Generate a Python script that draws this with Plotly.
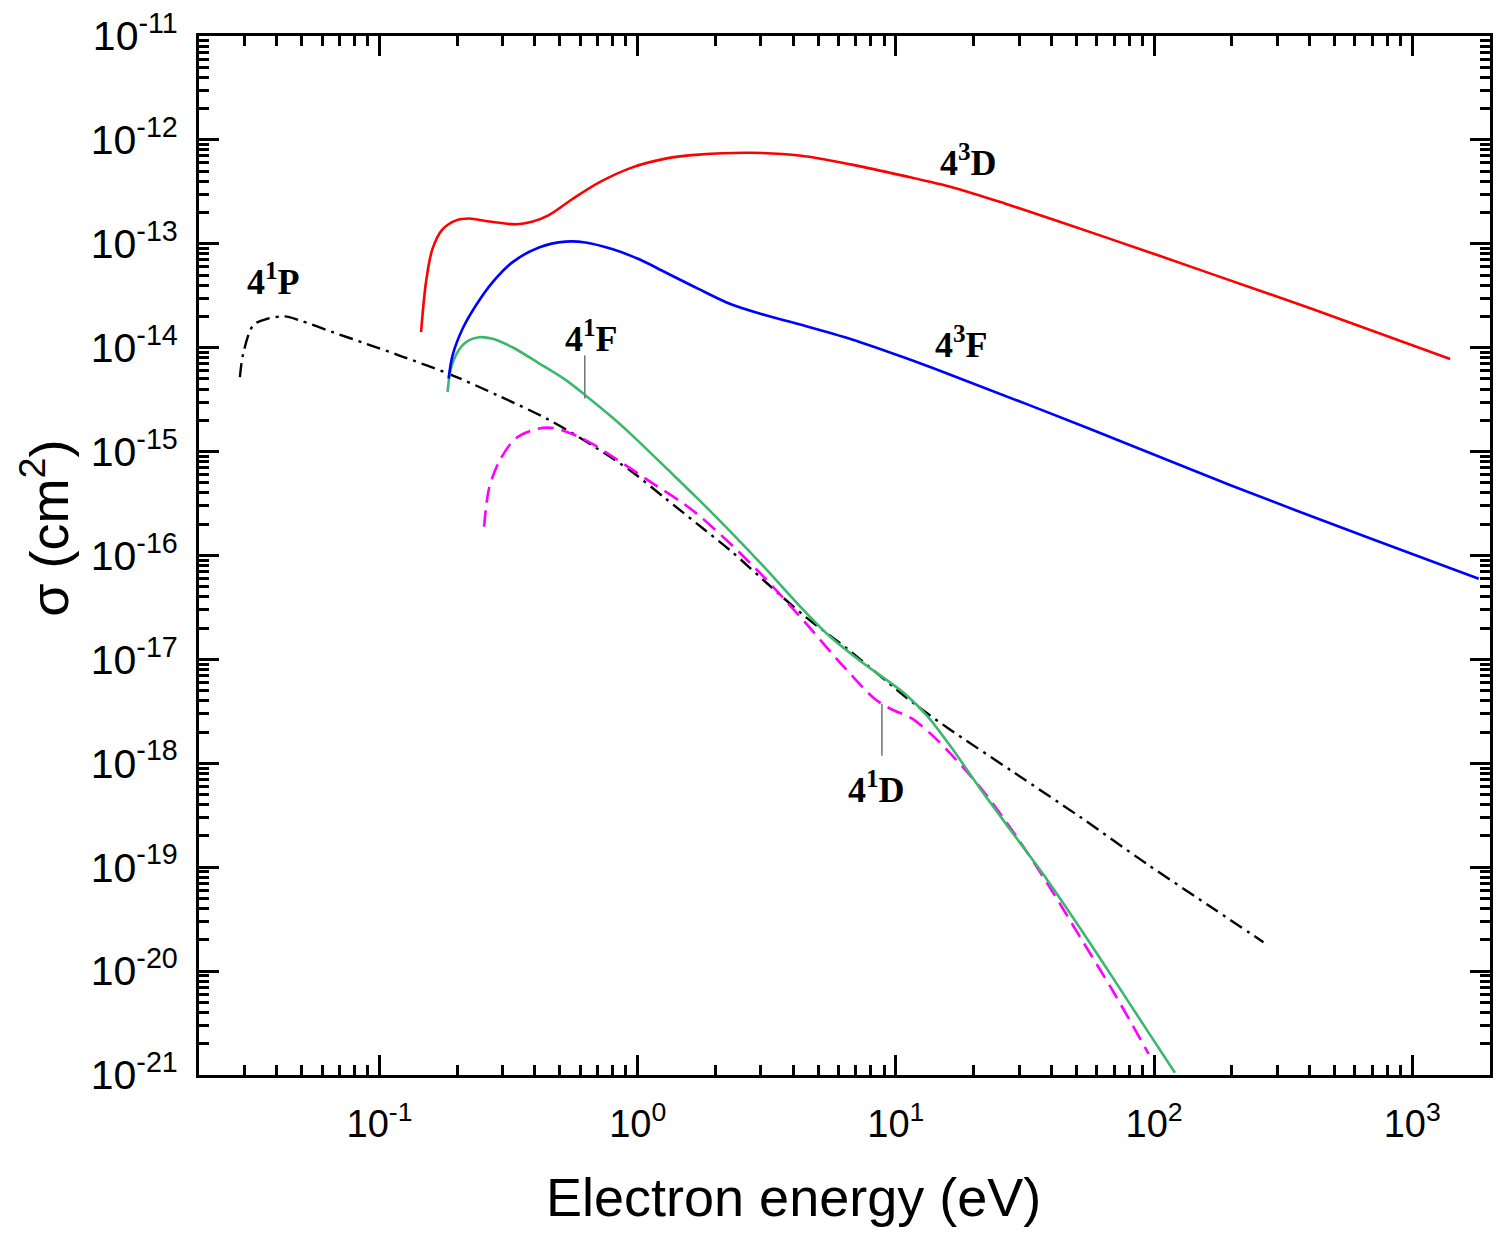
import plotly.graph_objects as go
import math

# ---------------- data ----------------
# 4^3D (red)
e_43D = [0.1449, 0.1514, 0.1602, 0.1751, 0.1982, 0.2225, 0.2660, 0.3381, 0.3897, 0.4532,
         0.5558, 0.7069, 0.9480, 1.282, 1.720, 2.706, 4.297, 6.761, 10.64, 16.74,
         26.58, 65.87, 164.6, 407.6, 1402]
s_43D = [1.41e-14, 4.27e-14, 8.83e-14, 1.37e-13, 1.68e-13, 1.75e-13, 1.64e-13, 1.54e-13, 1.63e-13, 1.89e-13,
         2.67e-13, 3.88e-13, 5.41e-13, 6.60e-13, 7.21e-13, 7.53e-13, 7.05e-13, 5.78e-13, 4.53e-13, 3.47e-13,
         2.43e-13, 1.14e-13, 5.19e-14, 2.37e-14, 7.78e-15]

# 4^3F (blue)
e_43F = [0.1852, 0.1919, 0.2098, 0.2362, 0.2739, 0.3270, 0.4148, 0.5259, 0.6283, 0.7959,
         1.009, 1.279, 1.720, 2.312, 3.112, 4.297, 6.761, 10.64, 15.88, 55.93,
         196.6, 693.4, 1809]
s_43F = [5.03e-15, 8.43e-15, 1.52e-14, 2.55e-14, 4.26e-14, 6.63e-14, 9.23e-14, 1.05e-13, 1.03e-13, 8.89e-14,
         7.13e-14, 5.32e-14, 3.68e-14, 2.60e-14, 2.06e-14, 1.66e-14, 1.20e-14, 8.13e-15, 5.62e-15, 1.67e-15,
         4.77e-16, 1.45e-16, 5.97e-17]

# 4^1F (green)
e_41F = [0.1835, 0.1891, 0.2006, 0.2162, 0.2432, 0.2739, 0.3270, 0.4148, 0.5257, 0.6283,
         0.7960, 0.9481, 1.279, 1.720, 2.307, 3.112, 4.183, 5.500, 7.326, 10.83,
         13.29, 16.31, 21.29, 28.73, 38.63, 51.80, 69.89, 93.97, 120.5]
s_41F = [3.75e-15, 6.27e-15, 9.07e-15, 1.13e-14, 1.26e-14, 1.22e-14, 1.01e-14, 7.08e-15, 4.90e-15, 3.47e-15,
         2.14e-15, 1.45e-15, 7.08e-16, 3.47e-16, 1.66e-16, 7.59e-17, 3.39e-17, 1.70e-17, 9.55e-18, 4.68e-18,
         2.82e-18, 1.45e-18, 5.62e-19, 2.04e-19, 7.50e-20, 2.57e-20, 8.32e-21, 2.69e-21, 1.05e-21]

# 4^1D (magenta, dashed)
e_41D = [0.2543, 0.2658, 0.2905, 0.3372, 0.4148, 0.4810, 0.6283, 0.8203, 1.103, 1.483,
         1.720, 2.307, 3.112, 4.183, 6.356, 8.297, 9.565, 11.43, 13.65, 16.31,
         21.29, 28.81, 38.63, 51.80, 70.08, 95.24]
s_41D = [1.90e-16, 4.43e-16, 7.98e-16, 1.34e-15, 1.67e-15, 1.67e-15, 1.29e-15, 8.58e-16, 5.25e-16, 3.24e-16,
         2.45e-16, 1.27e-16, 6.05e-17, 2.70e-17, 8.24e-18, 4.15e-18, 3.33e-18, 2.73e-18, 1.92e-18, 1.23e-18,
         5.81e-19, 2.10e-19, 6.96e-20, 2.11e-20, 6.12e-21, 1.60e-21]

# 4^1P (black, dash-dot)
e_41P = [0.02880, 0.02966, 0.03242, 0.03651, 0.04297, 0.04910, 0.06601, 0.08884, 0.1194, 0.1863,
         0.2905, 0.4532, 0.6661, 0.9506, 1.279, 1.720, 2.312, 3.112, 4.441, 6.527,
         11.43, 15.88, 28.73, 51.95, 93.97, 170.0, 265.3]
s_41P = [5.22e-15, 8.73e-15, 1.64e-14, 1.89e-14, 2.00e-14, 1.83e-14, 1.41e-14, 1.09e-14, 8.41e-15, 5.58e-15,
         3.43e-15, 2.02e-15, 1.15e-15, 6.39e-16, 3.55e-16, 1.97e-16, 1.09e-16, 5.62e-17, 2.60e-17, 1.25e-17,
         3.97e-18, 2.19e-18, 8.13e-19, 3.02e-19, 1.07e-19, 3.98e-20, 1.90e-20]

# pointer lines for labels 4^1F and 4^1D
e_ptr_41F = [0.624, 0.624]
s_ptr_41F = [8.43e-15, 3.24e-15]
e_ptr_41D = [8.83, 8.83]
s_ptr_41D = [3.72e-18, 1.18e-18]

# tick values / labels
x_major = [0.1, 1, 10, 100, 1000]
x_labels = ["10<sup>-1</sup>", "10<sup>0</sup>", "10<sup>1</sup>", "10<sup>2</sup>", "10<sup>3</sup>"]
y_exps = list(range(-21, -10))
y_major = [10.0 ** k for k in y_exps]
y_labels = ["10<sup>%d</sup>" % k for k in y_exps]

# curve labels: (text, energy, sigma)
labels = [("4<sup>3</sup>D", 19.1, 6.32e-13),
          ("4<sup>3</sup>F", 18.0, 1.13e-14),
          ("4<sup>1</sup>P", 0.0390, 4.55e-14),
          ("4<sup>1</sup>F", 0.664, 1.29e-14),
          ("4<sup>1</sup>D", 8.45, 5.81e-19)]

x_title = "Electron energy (eV)"
y_title = "σ (cm<sup>2</sup>)"

# ---------------- figure ----------------
fig = go.Figure()

def add_curve(x, y, color, dash="solid", width=2.6):
    fig.add_trace(go.Scatter(x=x, y=y, mode="lines",
                             line=dict(color=color, width=width, dash=dash, shape="spline", smoothing=0.9),
                             showlegend=False, hoverinfo="skip"))

add_curve(e_41P, s_41P, "#000000", dash="14px,6px,3px,6px", width=2.4)
add_curve(e_41D, s_41D, "#ff00ff", dash="16px,8px", width=2.6)
add_curve(e_41F, s_41F, "#3cb86e")
add_curve(e_43F, s_43F, "#0000ff")
add_curve(e_43D, s_43D, "#ff0000")

for xs, ys in [(e_ptr_41F, s_ptr_41F), (e_ptr_41D, s_ptr_41D)]:
    fig.add_trace(go.Scatter(x=xs, y=ys, mode="lines", line=dict(color="#7a7a7a", width=1.6),
                             showlegend=False, hoverinfo="skip"))

for txt, ex, sy in labels:
    fig.add_annotation(x=math.log10(ex), y=math.log10(sy), xref="x", yref="y", text="<b>" + txt + "</b>",
                       showarrow=False, xanchor="center", yanchor="middle",
                       font=dict(family="Liberation Serif, Times New Roman, serif", size=36, color="black"))

title_font = dict(family="Liberation Sans, Arial, sans-serif", size=54, color="black")
fig.add_annotation(text=x_title, xref="paper", yref="paper", x=0.4606, y=-0.117,
                   xanchor="center", yanchor="middle", showarrow=False, font=title_font)
fig.add_annotation(text=y_title, xref="paper", yref="paper", x=-0.119, y=0.526, textangle=-90,
                   xanchor="center", yanchor="middle", showarrow=False, font=title_font)

x_minor = [m * 10.0 ** k for k in range(-2, 4) for m in range(2, 10)
           if 0.02 <= m * 10.0 ** k <= 2000]
y_minor = [m * 10.0 ** k for k in range(-21, -11) for m in range(2, 10)]

fig.update_xaxes(type="log", range=[math.log10(0.02), math.log10(2000)],
                 tickmode="array", tickvals=x_major, ticktext=x_labels,
                 ticks="inside", ticklen=20, tickwidth=2.5, tickcolor="black",
                 minor=dict(tickmode="array", tickvals=x_minor, ticks="inside", ticklen=10,
                            tickwidth=2.5, tickcolor="black", showgrid=False),
                 showline=True, linewidth=3, linecolor="black", mirror="ticks",
                 showgrid=False, zeroline=False, ticklabelstandoff=13,
                 tickfont=dict(family="Liberation Sans, Arial, sans-serif", size=38, color="black"))
fig.update_yaxes(type="log", range=[-21, -11],
                 tickmode="array", tickvals=y_major, ticktext=y_labels,
                 ticks="inside", ticklen=20, tickwidth=2.5, tickcolor="black",
                 minor=dict(tickmode="array", tickvals=y_minor, ticks="inside", ticklen=10,
                            tickwidth=2.5, tickcolor="black", showgrid=False),
                 showline=True, linewidth=3, linecolor="black", mirror="ticks",
                 showgrid=False, zeroline=False, ticklabelstandoff=10,
                 tickfont=dict(family="Liberation Sans, Arial, sans-serif", size=41, color="black"))

fig.update_layout(width=1500, height=1234,
                  margin=dict(l=199, r=7, t=33, b=159, pad=0),
                  paper_bgcolor="white", plot_bgcolor="white",
                  showlegend=False)

fig.write_html("out.html", config={"displayModeBar": False},
               post_script="document.body.style.margin='0';document.body.style.padding='0';")
